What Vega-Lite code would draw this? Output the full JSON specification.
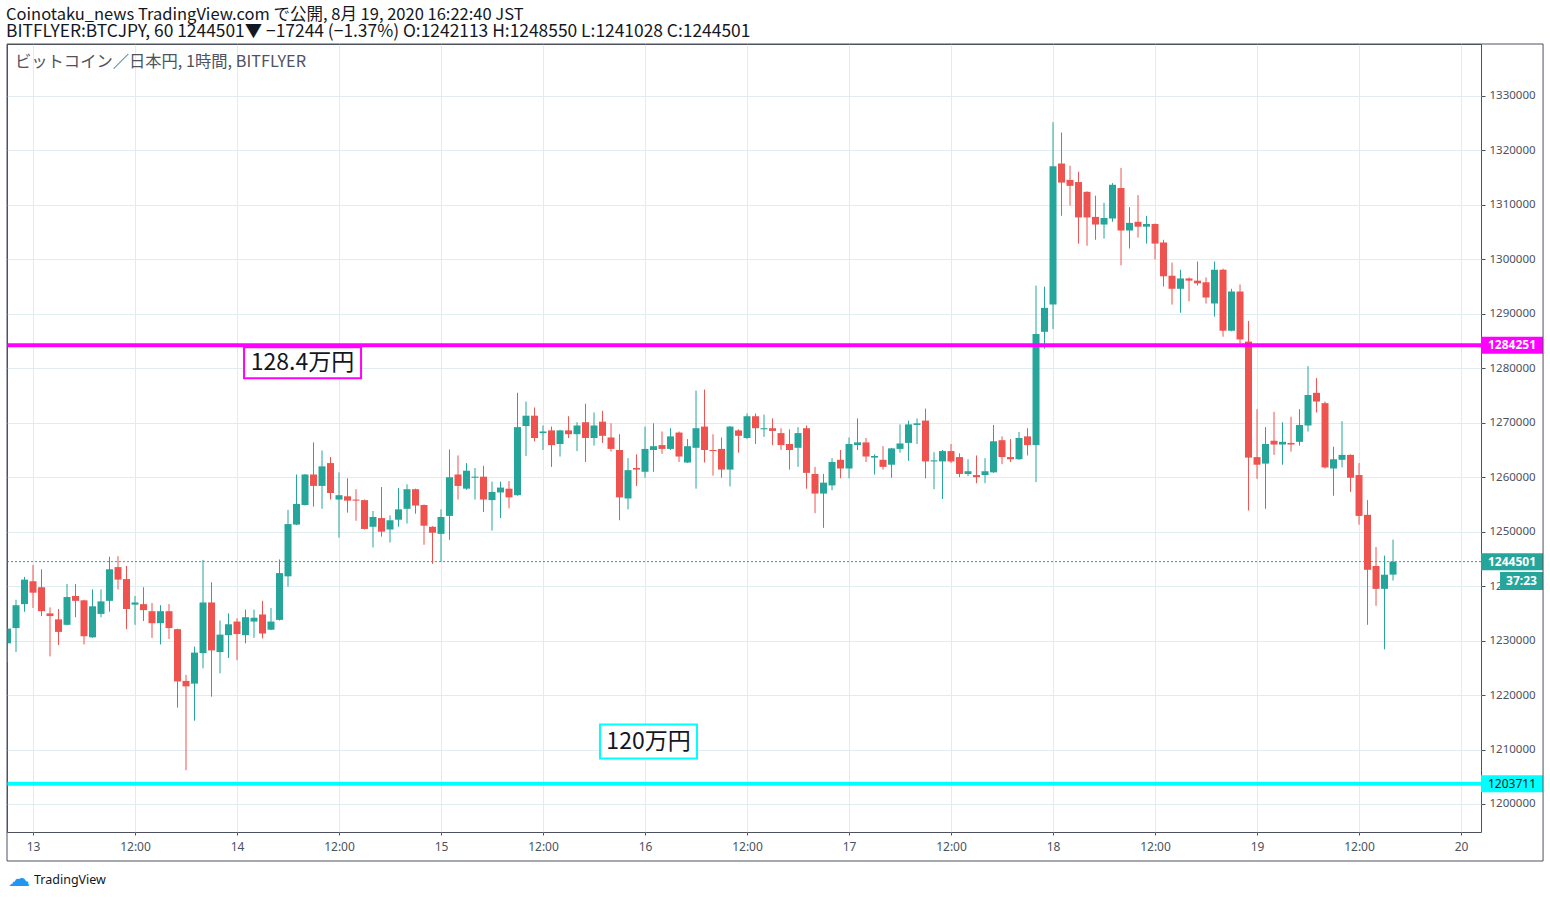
{
"$schema": "https://vega.github.io/schema/vega-lite/v6.json",
"width": 1474, "height": 788,
"autosize": {"type": "none"},
"padding": {"left": 7, "top": 44, "right": 69, "bottom": 66},
"background": "#ffffff",
"config": {"view": {"stroke": "#4c525e", "strokeWidth": 1}},
"resolve": {"axis": {"x": "independent", "y": "independent"}},
"title": {"text": "Coinotaku_news TradingView.com で公開, 8月 19, 2020 16:22:40 JST", "subtitle": "BITFLYER:BTCJPY, 60 1244501▼ −17244 (−1.37%) O:1242113 H:1248550 L:1241028 C:1244501", "anchor": "start", "frame": "group", "orient": "top", "offset": 3, "dx": -1, "font": "Noto Sans CJK JP", "fontSize": 16.5, "fontWeight": "normal", "color": "#131722", "subtitleFont": "Noto Sans CJK JP", "subtitleFontSize": 17.4, "subtitleColor": "#131722", "subtitlePadding": 0},
"datasets": {
"btc": [
{"hour":-3,"open":1229500,"high":1232400,"low":1226000,"close":1232200},
{"hour":-2,"open":1232300,"high":1237500,"low":1227900,"close":1236500},
{"hour":-1,"open":1236700,"high":1241700,"low":1235300,"close":1241200},
{"hour":0,"open":1240900,"high":1243900,"low":1236000,"close":1238800},
{"hour":1,"open":1239800,"high":1243100,"low":1234500,"close":1235400},
{"hour":2,"open":1235000,"high":1236100,"low":1227100,"close":1234500},
{"hour":3,"open":1233900,"high":1235800,"low":1229200,"close":1231600},
{"hour":4,"open":1232900,"high":1240400,"low":1232800,"close":1238000},
{"hour":5,"open":1238200,"high":1240400,"low":1234300,"close":1237300},
{"hour":6,"open":1237400,"high":1237500,"low":1229300,"close":1230800},
{"hour":7,"open":1230600,"high":1239400,"low":1230500,"close":1236300},
{"hour":8,"open":1234900,"high":1239400,"low":1234300,"close":1237200},
{"hour":9,"open":1237300,"high":1245400,"low":1235300,"close":1243100},
{"hour":10,"open":1243500,"high":1245500,"low":1239400,"close":1241200},
{"hour":11,"open":1241300,"high":1243700,"low":1232100,"close":1235800},
{"hour":12,"open":1236600,"high":1238200,"low":1232900,"close":1237000},
{"hour":13,"open":1236700,"high":1239800,"low":1233600,"close":1235600},
{"hour":14,"open":1235400,"high":1236900,"low":1230500,"close":1233200},
{"hour":15,"open":1233200,"high":1236500,"low":1229300,"close":1235400},
{"hour":16,"open":1235400,"high":1236700,"low":1230300,"close":1232300},
{"hour":17,"open":1232100,"high":1232200,"low":1217700,"close":1222500},
{"hour":18,"open":1222600,"high":1223700,"low":1206200,"close":1221600},
{"hour":19,"open":1222100,"high":1228900,"low":1215300,"close":1227800},
{"hour":20,"open":1227700,"high":1244800,"low":1224900,"close":1237000},
{"hour":21,"open":1237000,"high":1240700,"low":1219700,"close":1228200},
{"hour":22,"open":1227900,"high":1233700,"low":1224000,"close":1231100},
{"hour":23,"open":1231000,"high":1235000,"low":1226800,"close":1233000},
{"hour":24,"open":1233500,"high":1234100,"low":1226400,"close":1231200},
{"hour":25,"open":1231000,"high":1235700,"low":1229500,"close":1234300},
{"hour":26,"open":1233500,"high":1235700,"low":1230500,"close":1234200},
{"hour":27,"open":1234800,"high":1237300,"low":1230400,"close":1231300},
{"hour":28,"open":1232000,"high":1236000,"low":1231900,"close":1233500},
{"hour":29,"open":1233800,"high":1244900,"low":1233700,"close":1242400},
{"hour":30,"open":1241800,"high":1254000,"low":1239900,"close":1251400},
{"hour":31,"open":1251300,"high":1260500,"low":1251200,"close":1255100},
{"hour":32,"open":1254900,"high":1260600,"low":1254800,"close":1260500},
{"hour":33,"open":1260500,"high":1266400,"low":1254600,"close":1258400},
{"hour":34,"open":1258400,"high":1264900,"low":1254200,"close":1262000},
{"hour":35,"open":1262600,"high":1263700,"low":1255900,"close":1257100},
{"hour":36,"open":1255900,"high":1260900,"low":1248900,"close":1256700},
{"hour":37,"open":1256500,"high":1259800,"low":1253500,"close":1255700},
{"hour":38,"open":1255900,"high":1257800,"low":1252000,"close":1255700},
{"hour":39,"open":1255800,"high":1255900,"low":1250400,"close":1250500},
{"hour":40,"open":1250900,"high":1253800,"low":1247100,"close":1252700},
{"hour":41,"open":1252500,"high":1258200,"low":1249100,"close":1250000},
{"hour":42,"open":1250400,"high":1253000,"low":1248000,"close":1252100},
{"hour":43,"open":1252200,"high":1258000,"low":1250900,"close":1254100},
{"hour":44,"open":1254200,"high":1258700,"low":1251500,"close":1257800},
{"hour":45,"open":1257800,"high":1257900,"low":1253300,"close":1254800},
{"hour":46,"open":1254900,"high":1255000,"low":1247600,"close":1251100},
{"hour":47,"open":1250900,"high":1251000,"low":1244100,"close":1249800},
{"hour":48,"open":1249600,"high":1254100,"low":1244500,"close":1252700},
{"hour":49,"open":1252900,"high":1265100,"low":1248500,"close":1260000},
{"hour":50,"open":1260500,"high":1264000,"low":1255900,"close":1258400},
{"hour":51,"open":1257900,"high":1262600,"low":1257700,"close":1261200},
{"hour":52,"open":1259900,"high":1261700,"low":1255900,"close":1260100},
{"hour":53,"open":1260100,"high":1262100,"low":1253600,"close":1255900},
{"hour":54,"open":1255800,"high":1259200,"low":1250200,"close":1257300},
{"hour":55,"open":1257200,"high":1259200,"low":1252500,"close":1258100},
{"hour":56,"open":1257900,"high":1259300,"low":1254300,"close":1256300},
{"hour":57,"open":1256700,"high":1275500,"low":1256600,"close":1269200},
{"hour":58,"open":1269400,"high":1273900,"low":1263900,"close":1271300},
{"hour":59,"open":1271300,"high":1272800,"low":1266600,"close":1267200},
{"hour":60,"open":1268100,"high":1269500,"low":1265000,"close":1268400},
{"hour":61,"open":1268600,"high":1269300,"low":1261900,"close":1265900},
{"hour":62,"open":1266100,"high":1268700,"low":1263800,"close":1268600},
{"hour":63,"open":1268600,"high":1271200,"low":1267200,"close":1267900},
{"hour":64,"open":1267900,"high":1270100,"low":1264800,"close":1269500},
{"hour":65,"open":1270100,"high":1273500,"low":1262800,"close":1267200},
{"hour":66,"open":1267200,"high":1271900,"low":1265800,"close":1269500},
{"hour":67,"open":1270200,"high":1272200,"low":1266300,"close":1267600},
{"hour":68,"open":1267300,"high":1269900,"low":1264700,"close":1265200},
{"hour":69,"open":1265000,"high":1267900,"low":1252100,"close":1256300},
{"hour":70,"open":1256100,"high":1263500,"low":1254100,"close":1261300},
{"hour":71,"open":1261700,"high":1264200,"low":1258400,"close":1261400},
{"hour":72,"open":1261000,"high":1269300,"low":1259900,"close":1265200},
{"hour":73,"open":1265000,"high":1269900,"low":1261000,"close":1265700},
{"hour":74,"open":1265900,"high":1268400,"low":1264300,"close":1265200},
{"hour":75,"open":1265200,"high":1269000,"low":1265000,"close":1267500},
{"hour":76,"open":1268200,"high":1268400,"low":1262800,"close":1263800},
{"hour":77,"open":1262700,"high":1267000,"low":1262600,"close":1265700},
{"hour":78,"open":1265400,"high":1275900,"low":1257900,"close":1269000},
{"hour":79,"open":1269300,"high":1276100,"low":1262700,"close":1265000},
{"hour":80,"open":1265000,"high":1267900,"low":1260300,"close":1264800},
{"hour":81,"open":1265200,"high":1267300,"low":1259900,"close":1261400},
{"hour":82,"open":1261400,"high":1269400,"low":1258300,"close":1269300},
{"hour":83,"open":1268600,"high":1268800,"low":1264500,"close":1267600},
{"hour":84,"open":1267200,"high":1271700,"low":1267000,"close":1271200},
{"hour":85,"open":1271200,"high":1271700,"low":1266100,"close":1269000},
{"hour":86,"open":1268800,"high":1271500,"low":1267400,"close":1269000},
{"hour":87,"open":1269000,"high":1270800,"low":1265900,"close":1268500},
{"hour":88,"open":1268100,"high":1269000,"low":1265000,"close":1265900},
{"hour":89,"open":1266100,"high":1268800,"low":1261400,"close":1265000},
{"hour":90,"open":1265400,"high":1269200,"low":1261900,"close":1268100},
{"hour":91,"open":1269000,"high":1269500,"low":1257900,"close":1260800},
{"hour":92,"open":1260600,"high":1261900,"low":1253400,"close":1257000},
{"hour":93,"open":1257000,"high":1260600,"low":1250700,"close":1259000},
{"hour":94,"open":1258500,"high":1263500,"low":1257600,"close":1262800},
{"hour":95,"open":1263200,"high":1265000,"low":1259800,"close":1261600},
{"hour":96,"open":1261600,"high":1267300,"low":1259800,"close":1266100},
{"hour":97,"open":1265900,"high":1270800,"low":1265000,"close":1266400},
{"hour":98,"open":1266400,"high":1267200,"low":1262800,"close":1263800},
{"hour":99,"open":1263600,"high":1264200,"low":1260500,"close":1263900},
{"hour":100,"open":1263200,"high":1265700,"low":1261400,"close":1261900},
{"hour":101,"open":1262300,"high":1265400,"low":1259900,"close":1265300},
{"hour":102,"open":1265200,"high":1269700,"low":1264500,"close":1266200},
{"hour":103,"open":1266300,"high":1270400,"low":1263000,"close":1269700},
{"hour":104,"open":1269600,"high":1270800,"low":1266100,"close":1269900},
{"hour":105,"open":1270400,"high":1272600,"low":1259800,"close":1262900},
{"hour":106,"open":1262900,"high":1264600,"low":1257800,"close":1263100},
{"hour":107,"open":1262900,"high":1265000,"low":1256000,"close":1264800},
{"hour":108,"open":1264800,"high":1266100,"low":1262600,"close":1262900},
{"hour":109,"open":1263700,"high":1264400,"low":1260000,"close":1260600},
{"hour":110,"open":1260600,"high":1263300,"low":1260200,"close":1261100},
{"hour":111,"open":1260400,"high":1264000,"low":1258900,"close":1260000},
{"hour":112,"open":1260400,"high":1263500,"low":1258900,"close":1261100},
{"hour":113,"open":1260900,"high":1269600,"low":1260800,"close":1266600},
{"hour":114,"open":1266800,"high":1267500,"low":1262400,"close":1263700},
{"hour":115,"open":1263700,"high":1267000,"low":1262800,"close":1263300},
{"hour":116,"open":1263300,"high":1268300,"low":1263200,"close":1267200},
{"hour":117,"open":1267500,"high":1269000,"low":1264000,"close":1265900},
{"hour":118,"open":1265900,"high":1295200,"low":1259100,"close":1286300},
{"hour":119,"open":1286700,"high":1295000,"low":1283600,"close":1291100},
{"hour":120,"open":1291700,"high":1325200,"low":1287200,"close":1317100},
{"hour":121,"open":1317600,"high":1323300,"low":1308000,"close":1314100},
{"hour":122,"open":1314600,"high":1317200,"low":1309900,"close":1313500},
{"hour":123,"open":1314200,"high":1316100,"low":1302900,"close":1307700},
{"hour":124,"open":1312400,"high":1312500,"low":1302500,"close":1307700},
{"hour":125,"open":1307800,"high":1311700,"low":1303600,"close":1306400},
{"hour":126,"open":1306400,"high":1310400,"low":1303800,"close":1307600},
{"hour":127,"open":1307500,"high":1314000,"low":1306900,"close":1313700},
{"hour":128,"open":1313100,"high":1316800,"low":1298900,"close":1305300},
{"hour":129,"open":1305300,"high":1309600,"low":1302000,"close":1306700},
{"hour":130,"open":1306900,"high":1311800,"low":1304000,"close":1306000},
{"hour":131,"open":1306000,"high":1308000,"low":1302900,"close":1306500},
{"hour":132,"open":1306500,"high":1306600,"low":1300000,"close":1302900},
{"hour":133,"open":1303100,"high":1303600,"low":1295000,"close":1296900},
{"hour":134,"open":1297000,"high":1299400,"low":1291700,"close":1294600},
{"hour":135,"open":1294600,"high":1298100,"low":1290200,"close":1296500},
{"hour":136,"open":1296500,"high":1296700,"low":1292300,"close":1296100},
{"hour":137,"open":1296100,"high":1299600,"low":1295200,"close":1295600},
{"hour":138,"open":1295800,"high":1296700,"low":1291900,"close":1293000},
{"hour":139,"open":1291900,"high":1299600,"low":1289500,"close":1298100},
{"hour":140,"open":1298100,"high":1298300,"low":1285800,"close":1286900},
{"hour":141,"open":1286900,"high":1294600,"low":1286800,"close":1294100},
{"hour":142,"open":1294100,"high":1295400,"low":1284600,"close":1285300},
{"hour":143,"open":1284900,"high":1288700,"low":1253900,"close":1263600},
{"hour":144,"open":1263700,"high":1272500,"low":1259700,"close":1262300},
{"hour":145,"open":1262500,"high":1269200,"low":1254200,"close":1266100},
{"hour":146,"open":1266700,"high":1272000,"low":1264100,"close":1266000},
{"hour":147,"open":1266000,"high":1270100,"low":1262300,"close":1266500},
{"hour":148,"open":1266300,"high":1271100,"low":1264700,"close":1266000},
{"hour":149,"open":1266500,"high":1272500,"low":1265800,"close":1269600},
{"hour":150,"open":1269500,"high":1280400,"low":1268400,"close":1275100},
{"hour":151,"open":1275500,"high":1278200,"low":1271900,"close":1273900},
{"hour":152,"open":1273600,"high":1273900,"low":1261600,"close":1261800},
{"hour":153,"open":1261600,"high":1265600,"low":1256600,"close":1263300},
{"hour":154,"open":1263200,"high":1270300,"low":1261800,"close":1264100},
{"hour":155,"open":1264100,"high":1264200,"low":1257300,"close":1259900},
{"hour":156,"open":1260400,"high":1262600,"low":1251300,"close":1252900},
{"hour":157,"open":1253100,"high":1255800,"low":1232900,"close":1243000},
{"hour":158,"open":1243700,"high":1247200,"low":1236400,"close":1239500},
{"hour":159,"open":1239500,"high":1245600,"low":1228400,"close":1242100},
{"hour":160,"open":1242113,"high":1248550,"low":1241028,"close":1244501}
]
},
"layer": [
{"data": {"name": "btc"},
 "mark": {"type": "rule", "strokeWidth": 1, "clip": true},
 "encoding": {
  "x": {"field": "hour", "type": "quantitative", "scale": {"domain": [-3.06, 170.35], "nice": false, "zero": false, "padding": 0},
        "axis": {"values": [0, 12, 24, 36, 48, 60, 72, 84, 96, 108, 120, 132, 144, 156, 168], "labelExpr": "datum.value % 24 === 0 ? '' + (13 + datum.value / 24) : '12:00'", "title": null, "domain": false, "grid": true, "gridColor": "#e1ecf2", "tickSize": 3, "tickColor": "#4c525e", "labelPadding": 6, "labelFontSize": 12, "labelFont": "Noto Sans", "labelColor": "#4c525e", "labelFlush": false, "zindex": 0}},
  "y": {"field": "low", "type": "quantitative", "scale": {"domain": [1194857, 1339548], "nice": false, "zero": false, "padding": 0},
        "axis": {"orient": "right", "values": [1200000, 1210000, 1220000, 1230000, 1240000, 1250000, 1260000, 1270000, 1280000, 1290000, 1300000, 1310000, 1320000, 1330000], "format": "d", "title": null, "domain": false, "grid": true, "gridColor": "#e1ecf2", "tickSize": 4, "tickColor": "#4c525e", "labelPadding": 4, "labelFontSize": 11.5, "labelFont": "Noto Sans", "labelColor": "#4c525e", "zindex": 0}},
  "y2": {"field": "high"},
  "color": {"condition": {"test": "datum.close >= datum.open", "value": "#26a69a"}, "value": "#ef5350"}}},
{"data": {"values": [{"price": 1244501}]},
 "mark": {"type": "rule", "color": "#26a69a", "strokeWidth": 1, "strokeDash": [2, 2]},
 "encoding": {"y": {"field": "price", "type": "quantitative", "scale": {"domain": [1194857, 1339548], "nice": false, "zero": false, "padding": 0}, "axis": null}}},
{"data": {"name": "btc"},
 "mark": {"type": "bar", "size": 7, "clip": true},
 "encoding": {
  "x": {"field": "hour", "type": "quantitative", "scale": {"domain": [-3.06, 170.35], "nice": false, "zero": false, "padding": 0}, "axis": null},
  "y": {"field": "open", "type": "quantitative", "scale": {"domain": [1194857, 1339548], "nice": false, "zero": false, "padding": 0}, "axis": null},
  "y2": {"field": "close"},
  "color": {"condition": {"test": "datum.close >= datum.open", "value": "#26a69a"}, "value": "#ef5350"}}},
{"data": {"values": [{"price": 1284251}]},
 "mark": {"type": "rule", "color": "#ff00ff", "strokeWidth": 4},
 "encoding": {"y": {"field": "price", "type": "quantitative", "scale": {"domain": [1194857, 1339548], "nice": false, "zero": false, "padding": 0}, "axis": null}}},
{"data": {"values": [{"price": 1203711}]},
 "mark": {"type": "rule", "color": "#00ffff", "strokeWidth": 4},
 "encoding": {"y": {"field": "price", "type": "quantitative", "scale": {"domain": [1194857, 1339548], "nice": false, "zero": false, "padding": 0}, "axis": null}}},
{"data": {"values": [{"label": "128.4万円", "hour": 31.71, "price": 1281010}]},
 "mark": {"type": "tick", "orient": "horizontal", "size": 117, "thickness": 31, "fill": "#ffffff", "stroke": "#ff00ff", "strokeWidth": 2, "opacity": 1},
 "encoding": {"x": {"field": "hour", "type": "quantitative", "scale": {"domain": [-3.06, 170.35], "nice": false, "zero": false, "padding": 0}, "axis": null},
  "y": {"field": "price", "type": "quantitative", "scale": {"domain": [1194857, 1339548], "nice": false, "zero": false, "padding": 0}, "axis": null}}},
{"data": {"values": [{"label": "120万円", "hour": 72.41, "price": 1211473}]},
 "mark": {"type": "tick", "orient": "horizontal", "size": 97, "thickness": 34, "fill": "#ffffff", "stroke": "#00ffff", "strokeWidth": 2, "opacity": 1},
 "encoding": {"x": {"field": "hour", "type": "quantitative", "scale": {"domain": [-3.06, 170.35], "nice": false, "zero": false, "padding": 0}, "axis": null},
  "y": {"field": "price", "type": "quantitative", "scale": {"domain": [1194857, 1339548], "nice": false, "zero": false, "padding": 0}, "axis": null}}},
{"data": {"values": [{"label": "128.4万円", "hour": 31.71, "price": 1281010}, {"label": "120万円", "hour": 72.41, "price": 1211473}]},
 "mark": {"type": "text", "font": "Noto Sans CJK JP", "fontSize": 23, "color": "#131722", "align": "center", "baseline": "middle"},
 "encoding": {"x": {"field": "hour", "type": "quantitative", "scale": {"domain": [-3.06, 170.35], "nice": false, "zero": false, "padding": 0}, "axis": null},
  "y": {"field": "price", "type": "quantitative", "scale": {"domain": [1194857, 1339548], "nice": false, "zero": false, "padding": 0}, "axis": null},
  "text": {"field": "label"}}},
{"data": {"values": [{"label": "ビットコイン／日本円, 1時間, BITFLYER"}]},
 "mark": {"type": "text", "font": "Noto Sans CJK JP", "fontSize": 16.3, "color": "#50535e", "align": "left", "baseline": "middle", "dx": 8, "dy": 18},
 "encoding": {"x": {"datum": -3.06, "type": "quantitative", "scale": {"domain": [-3.06, 170.35], "nice": false, "zero": false, "padding": 0}, "axis": null},
  "y": {"datum": 1339548, "type": "quantitative", "scale": {"domain": [1194857, 1339548], "nice": false, "zero": false, "padding": 0}, "axis": null},
  "text": {"field": "label"}}},
{"data": {"values": [{"label": "1284251", "price": 1284251}]},
 "mark": {"type": "tick", "orient": "horizontal", "size": 62, "thickness": 17, "color": "#ff00ff", "opacity": 1},
 "encoding": {"x": {"datum": 174, "type": "quantitative", "scale": {"domain": [-3.06, 170.35], "nice": false, "zero": false, "padding": 0}, "axis": null},
  "y": {"field": "price", "type": "quantitative", "scale": {"domain": [1194857, 1339548], "nice": false, "zero": false, "padding": 0}, "axis": null}}},
{"data": {"values": [{"label": "1244501", "price": 1244501}]},
 "mark": {"type": "tick", "orient": "horizontal", "size": 62, "thickness": 17, "color": "#26a69a", "opacity": 1},
 "encoding": {"x": {"datum": 174, "type": "quantitative", "scale": {"domain": [-3.06, 170.35], "nice": false, "zero": false, "padding": 0}, "axis": null},
  "y": {"field": "price", "type": "quantitative", "scale": {"domain": [1194857, 1339548], "nice": false, "zero": false, "padding": 0}, "axis": null}}},
{"data": {"values": [{"label": "37:23", "price": 1240944}]},
 "mark": {"type": "tick", "orient": "horizontal", "size": 43, "thickness": 18, "color": "#26a69a", "opacity": 1},
 "encoding": {"x": {"datum": 175.12, "type": "quantitative", "scale": {"domain": [-3.06, 170.35], "nice": false, "zero": false, "padding": 0}, "axis": null},
  "y": {"field": "price", "type": "quantitative", "scale": {"domain": [1194857, 1339548], "nice": false, "zero": false, "padding": 0}, "axis": null}}},
{"data": {"values": [{"label": "1203711", "price": 1203711}]},
 "mark": {"type": "tick", "orient": "horizontal", "size": 62, "thickness": 17, "color": "#00ffff", "opacity": 1},
 "encoding": {"x": {"datum": 174, "type": "quantitative", "scale": {"domain": [-3.06, 170.35], "nice": false, "zero": false, "padding": 0}, "axis": null},
  "y": {"field": "price", "type": "quantitative", "scale": {"domain": [1194857, 1339548], "nice": false, "zero": false, "padding": 0}, "axis": null}}},
{"data": {"values": [{"label": "1284251", "price": 1284251}, {"label": "1244501", "price": 1244501}]},
 "mark": {"type": "text", "font": "Noto Sans", "fontSize": 12, "fontWeight": "bold", "color": "#ffffff", "align": "center", "baseline": "middle"},
 "encoding": {"x": {"datum": 174, "type": "quantitative", "scale": {"domain": [-3.06, 170.35], "nice": false, "zero": false, "padding": 0}, "axis": null},
  "y": {"field": "price", "type": "quantitative", "scale": {"domain": [1194857, 1339548], "nice": false, "zero": false, "padding": 0}, "axis": null},
  "text": {"field": "label"}}},
{"data": {"values": [{"label": "37:23", "price": 1240944}]},
 "mark": {"type": "text", "font": "Noto Sans", "fontSize": 12, "fontWeight": "bold", "color": "#ffffff", "align": "center", "baseline": "middle"},
 "encoding": {"x": {"datum": 175.12, "type": "quantitative", "scale": {"domain": [-3.06, 170.35], "nice": false, "zero": false, "padding": 0}, "axis": null},
  "y": {"field": "price", "type": "quantitative", "scale": {"domain": [1194857, 1339548], "nice": false, "zero": false, "padding": 0}, "axis": null},
  "text": {"field": "label"}}},
{"data": {"values": [{"label": "1203711", "price": 1203711}]},
 "mark": {"type": "text", "font": "Noto Sans", "fontSize": 12, "fontWeight": "normal", "color": "#131722", "align": "center", "baseline": "middle"},
 "encoding": {"x": {"datum": 174, "type": "quantitative", "scale": {"domain": [-3.06, 170.35], "nice": false, "zero": false, "padding": 0}, "axis": null},
  "y": {"field": "price", "type": "quantitative", "scale": {"domain": [1194857, 1339548], "nice": false, "zero": false, "padding": 0}, "axis": null},
  "text": {"field": "label"}}},
{"data": {"values": [{"frame": "outer"}]},
 "mark": {"type": "rect", "filled": false, "stroke": "#4c525e", "strokeWidth": 1},
 "encoding": {"x": {"datum": -3.06, "type": "quantitative", "scale": {"domain": [-3.06, 170.35], "nice": false, "zero": false, "padding": 0}, "axis": null},
  "x2": {"datum": 177.65},
  "y": {"datum": 1339548, "type": "quantitative", "scale": {"domain": [1194857, 1339548], "nice": false, "zero": false, "padding": 0}, "axis": null},
  "y2": {"datum": 1189531}}},
{"data": {"values": [{"label": "TradingView"}]},
 "mark": {"type": "text", "font": "Noto Sans", "fontSize": 12.5, "color": "#131722", "align": "left", "baseline": "middle", "dx": 27, "dy": 48},
 "encoding": {"x": {"datum": -3.06, "type": "quantitative", "scale": {"domain": [-3.06, 170.35], "nice": false, "zero": false, "padding": 0}, "axis": null},
  "y": {"datum": 1194857, "type": "quantitative", "scale": {"domain": [1194857, 1339548], "nice": false, "zero": false, "padding": 0}, "axis": null},
  "text": {"field": "label"}}},
{"data": {"values": [{"label": "☁"}]},
 "mark": {"type": "text", "font": "DejaVu Sans", "fontSize": 22, "color": "#2196f3", "align": "center", "baseline": "middle", "dx": 12, "dy": 47},
 "encoding": {"x": {"datum": -3.06, "type": "quantitative", "scale": {"domain": [-3.06, 170.35], "nice": false, "zero": false, "padding": 0}, "axis": null},
  "y": {"datum": 1194857, "type": "quantitative", "scale": {"domain": [1194857, 1339548], "nice": false, "zero": false, "padding": 0}, "axis": null},
  "text": {"field": "label"}}}
]
}
